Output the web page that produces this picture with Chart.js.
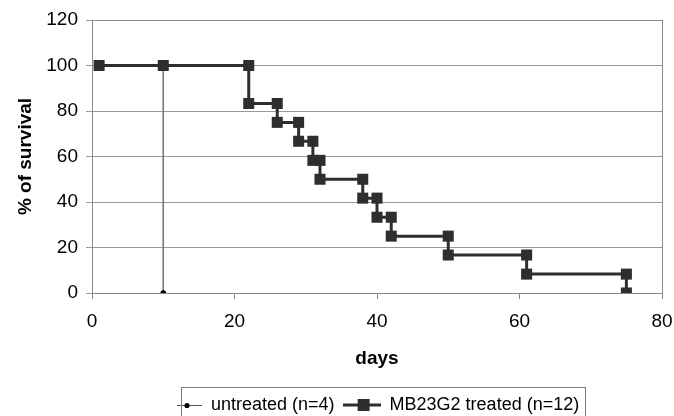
<!DOCTYPE html>
<html>
<head>
<meta charset="utf-8">
<script src="https://cdn.jsdelivr.net/npm/chart.js@4/dist/chart.umd.min.js"></script>
<style>
  html, body { margin: 0; padding: 0; background: #fff; }
  #wrap { width: 674px; height: 416px; }
</style>
</head>
<body>
<div id="wrap"><canvas id="c" width="674" height="416"></canvas></div>
<script>
// 数据
const seriesNames = ['untreated (n=4)', 'MB23G2 treated (n=12)'];
const untreatedDays = [1, 10, 10];
const untreatedSurvival = [100, 100, 0];
const treatedDays = [1, 10, 22, 22, 26, 26, 29, 29, 31, 31, 32, 32, 38, 38, 40, 40, 42, 42, 50, 50, 61, 61, 75, 75];
const treatedSurvival = [100, 100, 100, 83.3, 83.3, 75, 75, 66.7, 66.7, 58.3, 58.3, 50, 50, 41.7, 41.7, 33.3, 33.3, 25, 25, 16.7, 16.7, 8.3, 8.3, 0];
const xTicks = [0, 20, 40, 60, 80];
const yTicks = [0, 20, 40, 60, 80, 100, 120];

const FONT = '"Liberation Sans", Arial, sans-serif';
const ICON_W = 38;
const toPoints = (xs, ys) => xs.map((x, i) => ({ x, y: ys[i] }));

// 图例小图：线 + 标记
const legendIcon = (kind) => {
    const c = document.createElement('canvas');
    c.width = ICON_W; c.height = 14;
    const g = c.getContext('2d');
    if (kind === 'rect') {
        g.strokeStyle = '#2e2e2e';
        g.lineWidth = 3;
        g.beginPath(); g.moveTo(0, 7); g.lineTo(ICON_W, 7); g.stroke();
        g.fillStyle = '#2e2e2e';
        g.fillRect(15, 1, 12, 12);
    } else {
        g.strokeStyle = '#555';
        g.lineWidth = 1;
        g.beginPath(); g.moveTo(13, 7.5); g.lineTo(ICON_W, 7.5); g.stroke();
        g.fillStyle = '#000';
        g.beginPath(); g.arc(23, 7.5, 2.6, 0, Math.PI * 2); g.fill();
    }
    return c;
};
const icons = [legendIcon('dot'), legendIcon('rect')];

// 图例位置微调 + 绘图区边框和图例边框
const framePlugin = {
    id: 'frame',
    afterLayout(chart) {
        const lg = chart.legend;
        const w = lg.width, h = lg.height;
        lg.left = 156; lg.right = lg.left + w;
        lg.top = 388; lg.bottom = lg.top + h;
    },
    afterDraw(chart) {
        const { ctx, chartArea: a } = chart;
        ctx.save();
        ctx.strokeStyle = '#8a8a8a';
        ctx.lineWidth = 1;
        ctx.strokeRect(a.left + 0.5, a.top + 0.5, a.right - a.left, a.bottom - a.top);
        const boxes = chart.legend.legendHitBoxes;
        if (boxes && boxes.length) {
            const l = boxes[0].left + 17;
            const r = boxes[boxes.length - 1].left + boxes[boxes.length - 1].width + 6;
            ctx.strokeStyle = '#7a7a7a';
            ctx.strokeRect(Math.round(l) + 0.5, 387.5, Math.round(r - l), 40);
        }
        ctx.restore();
    }
};

new Chart(document.getElementById('c').getContext('2d'), {
    type: 'scatter',
    data: {
        datasets: [
            {
                label: seriesNames[0],
                data: toPoints(untreatedDays, untreatedSurvival),
                showLine: true,
                borderColor: '#777',
                borderWidth: 1,
                backgroundColor: '#000',
                pointStyle: 'circle',
                pointRadius: 2.8,
                pointBorderWidth: 0,
                order: 1
            },
            {
                label: seriesNames[1],
                data: toPoints(treatedDays, treatedSurvival),
                showLine: true,
                borderColor: '#2e2e2e',
                borderWidth: 3,
                backgroundColor: '#2e2e2e',
                pointStyle: 'rect',
                pointRadius: 7.8,
                pointBorderWidth: 0,
                order: 0
            }
        ]
    },
    options: {
        responsive: false,
        animation: false,
        layout: { padding: { top: 20, right: 6, left: 0, bottom: 2 } },
        plugins: {
            tooltip: { enabled: false },
            legend: {
                position: 'bottom',
                align: 'start',
                labels: {
                    font: { family: FONT, size: 18 },
                    color: '#000',
                    usePointStyle: true,
                    pointStyleWidth: ICON_W,
                    padding: 8,
                    generateLabels: (chart) => chart.data.datasets.map((ds, i) => ({
                        text: ds.label,
                        pointStyle: icons[i],
                        datasetIndex: i,
                        fontColor: '#000',
                        lineWidth: 0,
                        strokeStyle: 'transparent',
                        fillStyle: 'transparent'
                    }))
                }
            }
        },
        scales: {
            x: {
                type: 'linear',
                min: 0, max: 80,
                afterBuildTicks: (s) => { s.ticks = xTicks.map(v => ({ value: v })); },
                afterFit: (s) => { s.height = 85; s.paddingRight = 12; },
                ticks: { font: { family: FONT, size: 19 }, color: '#000', padding: 11 },
                grid: { drawOnChartArea: false, drawTicks: true, tickLength: 6, color: '#8a8a8a' },
                border: { color: '#8a8a8a' },
                title: { display: true, text: 'days', font: { family: FONT, size: 19, weight: 'bold' }, color: '#000', padding: { top: 4, bottom: 8 } }
            },
            y: {
                min: 0, max: 120,
                afterBuildTicks: (s) => { s.ticks = yTicks.map(v => ({ value: v })); },
                afterFit: (s) => { s.width = 92; },
                ticks: { font: { family: FONT, size: 19 }, color: '#000', padding: 8 },
                grid: { color: '#9a9a9a', tickLength: 6 },
                border: { color: '#8a8a8a' },
                title: { display: true, text: '% of survival', font: { family: FONT, size: 19, weight: 'bold' }, color: '#000', padding: { top: 14, bottom: 4 } }
            }
        }
    },
    plugins: [framePlugin]
});
</script>
</body>
</html>
